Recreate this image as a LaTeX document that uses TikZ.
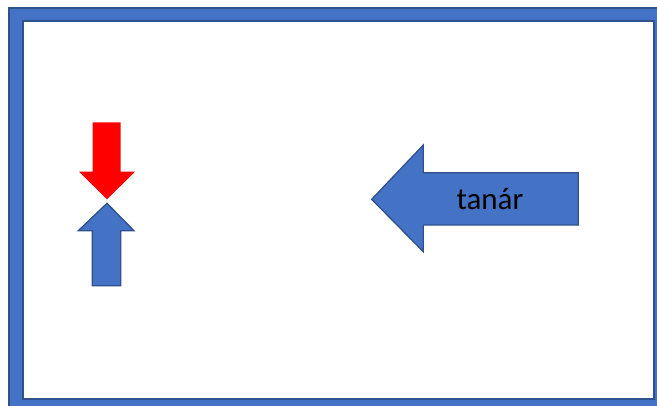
\documentclass[tikz,border=0pt]{standalone}
\usepackage{fontspec}
\setmainfont{Carlito}
\definecolor{ablue}{HTML}{4472C4}
\definecolor{dblue}{HTML}{2F528F}

\begin{document}
\begin{tikzpicture}[x=1pt,y=-1pt,
	bluearrow/.style={fill=ablue,draw=dblue,line width=1.3pt,line join=miter},
	redarrow/.style={fill=red,draw=none}]
		\useasboundingbox (0,0) rectangle (657,405);
		
		% keret
		\draw[bluearrow,line width=1.6pt,even odd rule] (9,8) rectangle (669,413) (23,21) rectangle (654,399);
		
		% piros lefele nyil
		\draw[redarrow] (92.7,122.3) -- (120.7,122.3) -- (120.7,171.7) -- (135,171.7) -- (107,199.3) -- (79,171.7) -- (92.7,171.7) -- cycle;
		
		% kek felfele nyil
		\draw[bluearrow] (107,203.3) -- (134,230.7) -- (120.7,230.7) -- (120.7,285.7) -- (92.3,285.7) -- (92.3,230.7) -- (78.3,230.7) -- cycle;
		
		% nagy nyil
		\draw[bluearrow] (371.7,199.3) -- (423.3,145) -- (423.3,172.7) -- (578.3,172.7) -- (578.3,225) -- (423.3,225) -- (423.3,251.7) -- cycle;
		
		\node[font=\fontsize{31}{36}\selectfont] (tanar) at (490,199) {tanár};
		\end{tikzpicture}
\end{document}
